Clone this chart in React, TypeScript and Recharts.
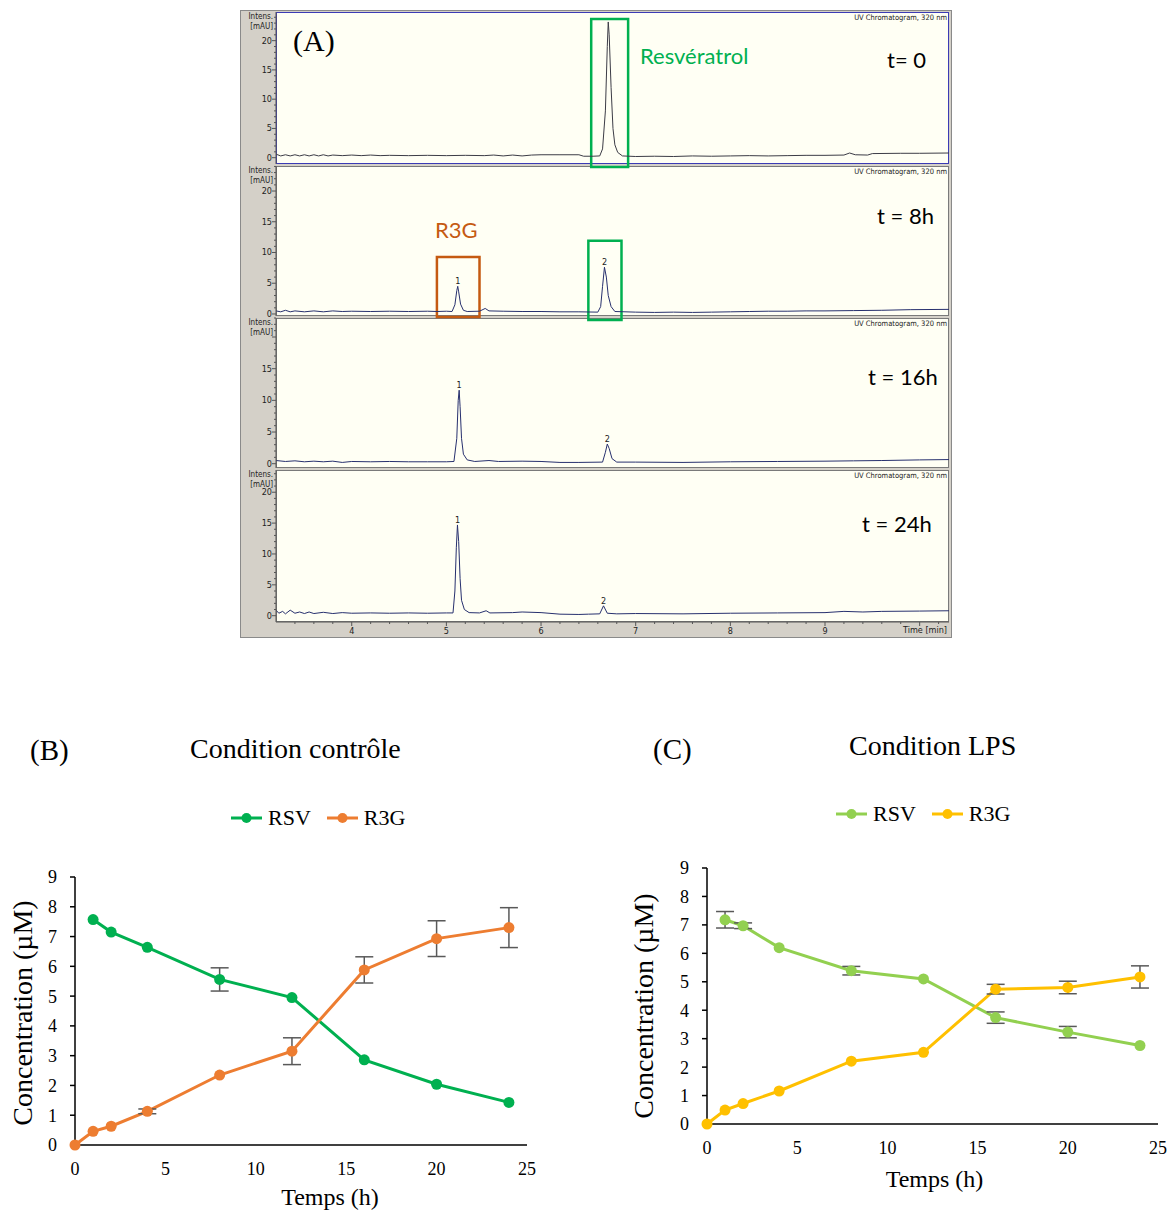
import React from 'react'
import {
  LineChart, Line, XAxis, YAxis, ErrorBar, Legend, ReferenceArea, ReferenceDot,
} from 'recharts'

// (A) chromatogrammes UV 320 nm : [temps (min), intensité (mAU)]
const chromT0 = [
  [3.2, 0.6], [3.25, 0.3], [3.3, 0.5], [3.35, 0.3], [3.4, 0.5], [3.45, 0.3], [3.5, 0.5], [3.55, 0.3],
  [3.6, 0.5], [3.65, 0.3], [3.7, 0.5], [3.75, 0.3], [3.8, 0.45], [3.9, 0.35], [4.0, 0.45], [4.1, 0.35],
  [4.2, 0.45], [4.3, 0.35], [4.4, 0.4], [4.6, 0.35], [4.8, 0.4], [5.0, 0.35], [5.2, 0.4], [5.4, 0.35],
  [5.5, 0.45], [5.6, 0.3], [5.7, 0.45], [5.8, 0.3], [5.9, 0.45], [6.0, 0.5], [6.2, 0.5], [6.4, 0.5],
  [6.45, 0.25], [6.55, 0.25], [6.62, 0.3], [6.65, 1.5], [6.68, 8], [6.7, 19], [6.71, 23.2], [6.72, 21],
  [6.74, 12], [6.76, 5], [6.78, 2.2], [6.81, 0.9], [6.86, 0.3], [7.0, 0.2], [7.2, 0.25], [7.4, 0.2],
  [7.6, 0.3], [7.8, 0.25], [8.0, 0.3], [8.2, 0.35], [8.4, 0.3], [8.6, 0.35], [8.8, 0.4], [9.0, 0.4],
  [9.2, 0.45], [9.26, 0.8], [9.32, 0.5], [9.45, 0.45], [9.5, 0.7], [9.8, 0.75], [10.0, 0.75], [10.31, 0.8],
]
const chromT8 = [
  [3.2, 0.5], [3.25, 0.35], [3.3, 0.6], [3.35, 0.35], [3.4, 0.5], [3.5, 0.35], [3.6, 0.5], [3.7, 0.35],
  [3.8, 0.5], [3.9, 0.4], [4.0, 0.45], [4.2, 0.4], [4.4, 0.45], [4.6, 0.4], [4.8, 0.45], [4.9, 0.4],
  [5.0, 0.45], [5.06, 0.4], [5.09, 1.5], [5.11, 3.8], [5.12, 4.5], [5.13, 3.6], [5.15, 1.6], [5.18, 0.6],
  [5.22, 0.4], [5.35, 0.45], [5.41, 0.9], [5.45, 0.5], [5.6, 0.45], [5.8, 0.4], [6.0, 0.4], [6.2, 0.35],
  [6.4, 0.35], [6.6, 0.3], [6.63, 1.2], [6.65, 4.5], [6.67, 7.6], [6.69, 6], [6.71, 3], [6.74, 1.2],
  [6.78, 0.4], [7.0, 0.3], [7.2, 0.25], [7.4, 0.3], [7.6, 0.25], [7.8, 0.3], [8.0, 0.35], [8.2, 0.4],
  [8.4, 0.45], [8.6, 0.45], [8.8, 0.5], [9.0, 0.5], [9.3, 0.55], [9.6, 0.6], [9.9, 0.7], [10.31, 0.75],
]
const chromT16 = [
  [3.2, 0.5], [3.3, 0.35], [3.4, 0.45], [3.5, 0.3], [3.6, 0.4], [3.7, 0.3], [3.8, 0.4], [3.9, 0.2],
  [4.0, 0.35], [4.2, 0.3], [4.4, 0.35], [4.6, 0.3], [4.8, 0.3], [5.0, 0.3], [5.08, 0.35], [5.11, 4],
  [5.125, 10], [5.135, 11.6], [5.145, 9], [5.16, 4], [5.18, 1.5], [5.22, 0.6], [5.3, 0.35], [5.45, 0.5],
  [5.55, 0.35], [5.8, 0.4], [6.0, 0.35], [6.2, 0.2], [6.4, 0.2], [6.65, 0.25], [6.68, 1.8], [6.7, 3.1],
  [6.72, 2.4], [6.75, 0.8], [6.8, 0.25], [7.0, 0.25], [7.5, 0.2], [8.0, 0.3], [8.5, 0.35], [9.0, 0.4],
  [9.3, 0.45], [9.6, 0.5], [10.0, 0.6], [10.31, 0.65],
]
const chromT24 = [
  [3.2, 0.9], [3.23, 0.4], [3.27, 0.7], [3.3, 0.3], [3.35, 0.9], [3.4, 0.4], [3.45, 0.6], [3.5, 0.35],
  [3.55, 0.6], [3.6, 0.35], [3.7, 0.55], [3.8, 0.35], [3.9, 0.5], [4.0, 0.4], [4.2, 0.45], [4.4, 0.4],
  [4.6, 0.45], [4.8, 0.4], [5.0, 0.45], [5.07, 0.45], [5.09, 4], [5.105, 11], [5.117, 14.7], [5.13, 12],
  [5.145, 6], [5.16, 2.5], [5.19, 1], [5.24, 0.5], [5.35, 0.45], [5.42, 0.8], [5.46, 0.45], [5.7, 0.5],
  [5.8, 0.6], [6.0, 0.5], [6.2, 0.25], [6.4, 0.2], [6.5, 0.25], [6.62, 0.3], [6.66, 1.6], [6.7, 0.4],
  [6.8, 0.3], [7.0, 0.35], [7.5, 0.3], [8.0, 0.4], [8.5, 0.45], [9.0, 0.5], [9.2, 0.7], [9.4, 0.6],
  [9.6, 0.7], [10.0, 0.75], [10.31, 0.8],
]
const chromTraces = [chromT0, chromT8, chromT16, chromT24]
const chromTimeLabels = ['t= 0', 't = 8h', 't = 16h', 't = 24h']
const chromXTicks = [
  3.4, 3.6, 3.8, 4, 4.2, 4.4, 4.6, 4.8, 5, 5.2, 5.4, 5.6, 5.8, 6, 6.2, 6.4, 6.6, 6.8,
  7, 7.2, 7.4, 7.6, 7.8, 8, 8.2, 8.4, 8.6, 8.8, 9, 9.2, 9.4, 9.6, 9.8, 10, 10.2,
]
const chromXLabels = [4, 5, 6, 7, 8, 9]
const chromYTicks = [0, 1, 2, 3, 4, 5, 6, 7, 8, 9, 10, 11, 12, 13, 14, 15, 16, 17, 18, 19, 20, 21, 22, 23, 24]
const chromYDomains = [[-1.08, 24.9], [-0.33, 24.07], [-0.68, 23.0], [-1.02, 23.6]]
const chromXDomain = [3.2, 10.31]
// numéros de pics
const chromPeaks = [
  [],
  [{ t: 5.12, i: 4.5, n: '1' }, { t: 6.67, i: 7.6, n: '2' }],
  [{ t: 5.135, i: 11.6, n: '1' }, { t: 6.7, i: 3.1, n: '2' }],
  [{ t: 5.117, i: 14.7, n: '1' }, { t: 6.66, i: 1.6, n: '2' }],
]
// cadres autour des pics identifiés
const chromBoxes = [
  [{ kind: 'rsv', t1: 6.53, t2: 6.92, i1: -1.6, i2: 23.7 }],
  [{ kind: 'r3g', t1: 4.9, t2: 5.35, i1: -0.49, i2: 9.27 }, { kind: 'rsv', t1: 6.5, t2: 6.85, i1: -0.98, i2: 11.9 }],
  [],
  [],
]

// (B) / (C) cinétiques
const hours = [0, 1, 2, 4, 8, 12, 16, 20, 24]
const ctrlRsv = [null, 7.57, 7.15, 6.64, 5.56, 4.95, 2.86, 2.04, 1.43]
const ctrlRsvErr = [null, null, null, null, 0.39, null, null, null, null]
const ctrlR3g = [0, 0.46, 0.63, 1.13, 2.35, 3.15, 5.88, 6.93, 7.3]
const ctrlR3gErr = [null, null, null, 0.08, null, 0.45, 0.44, 0.6, 0.67]
const lpsRsv = [null, 7.18, 6.97, 6.2, 5.39, 5.1, 3.74, 3.23, 2.76]
const lpsRsvErr = [null, 0.29, 0.1, null, 0.15, null, 0.2, 0.2, null]
const lpsR3g = [0, 0.49, 0.72, 1.16, 2.21, 2.52, 4.74, 4.8, 5.17]
const lpsR3gErr = [null, null, null, null, null, null, 0.17, 0.22, 0.39]
const concTicks = [0, 1, 2, 3, 4, 5, 6, 7, 8, 9]
const hourTicks = [0, 5, 10, 15, 20, 25]
const seriesNames = ['RSV', 'R3G']

const SERIF = "'Liberation Serif', 'Times New Roman', serif"
const SANS = "Lato, 'Liberation Sans', sans-serif"
const NARROW = "'Liberation Sans Narrow', 'DejaVu Sans Condensed', 'Liberation Sans', sans-serif"
const GREEN = '#00b050'
const ORANGE_BOX = '#c55a11'

const chromPanels = [
  { top: 2, height: 152 },
  { top: 156, height: 150 },
  { top: 308, height: 150 },
  { top: 460, height: 152 },
]

function ChromYTick(props: any) {
  const { x, y, payload, skip } = props
  const v = payload.value
  const major = v % 5 === 0
  return (
    <g>
      <line x1={x - (major ? 4 : 2)} x2={x} y1={y} y2={y} stroke="#555" />
      {major && !skip.includes(v) && (
        <text x={x - 4} y={y + 3} textAnchor="end" fontSize={9} fill="#222" fontFamily={NARROW}>{v}</text>
      )}
    </g>
  )
}

function ChromXTick(props: any) {
  const { x, y, payload } = props
  const v = payload.value
  const major = Math.abs(v - Math.round(v)) < 1e-6
  const labelled = major && chromXLabels.includes(Math.round(v))
  return (
    <g>
      <line x1={x} x2={x} y1={y} y2={y + (major ? 4 : 2)} stroke="#555" />
      {labelled && (
        <text x={x} y={y + 12} textAnchor="middle" fontSize={9} fill="#222" fontFamily={NARROW}>{Math.round(v)}</text>
      )}
    </g>
  )
}

function ChromPanel({ k }: { k: number }) {
  const p = chromPanels[k]
  const [lo, hi] = chromYDomains[k]
  const last = k === chromTraces.length - 1
  const data = chromTraces[k].map(([t, i]) => ({ t, i }))
  return (
    <div style={{ position: 'absolute', left: 0, top: p.top }}>
      <LineChart width={709} height={p.height + (last ? 16 : 0)} data={data} margin={{ top: 0, right: 0, bottom: 0, left: 0 }}>
        <XAxis
          dataKey="t" type="number" domain={chromXDomain} allowDataOverflow hide={!last}
          ticks={chromXTicks} interval={0} height={16} tickSize={0} tickMargin={0}
          axisLine={{ stroke: '#555' }} tick={(t: any) => <ChromXTick {...t} />}
        />
        <YAxis
          type="number" domain={[lo, hi]} allowDataOverflow width={36}
          ticks={chromYTicks.filter((v) => v <= hi)} interval={0} tickSize={0} tickMargin={0}
          axisLine={{ stroke: '#555' }} tick={(t: any) => <ChromYTick {...t} skip={k === 2 ? [20] : []} />}
        />
        {chromBoxes[k].map((b, j) => (
          <ReferenceArea
            key={j} x1={b.t1} x2={b.t2} y1={b.i1} y2={b.i2} ifOverflow="visible"
            fill="none" stroke={b.kind === 'rsv' ? GREEN : ORANGE_BOX} strokeWidth={2.5}
          />
        ))}
        <Line
          dataKey="i" type="linear" stroke={k === 0 ? '#3c3c46' : '#27306e'} strokeWidth={1}
          dot={false} isAnimationActive={false}
        />
        {chromPeaks[k].map((pk, j) => (
          <ReferenceDot
            key={j} x={pk.t} y={pk.i} r={0} ifOverflow="visible"
            label={{ value: pk.n, position: 'top', offset: 2, fontSize: 9, fill: '#222', fontFamily: NARROW }}
          />
        ))}
      </LineChart>
    </div>
  )
}

function Txt({ x, y, size, color = '#000', font = SANS, children }: any) {
  return (
    <div style={{
      position: 'absolute', left: x, top: y - size / 2, fontSize: size, lineHeight: 1,
      color, fontFamily: font, whiteSpace: 'nowrap',
    }}>{children}</div>
  )
}

const renderLegend = ({ payload }: any) => {
  const items = seriesNames
    .map((n) => (payload || []).find((e: any) => e.value === n))
    .filter(Boolean)
  return (
    <div style={{ display: 'flex', alignItems: 'center', fontSize: 22, lineHeight: '22px', color: '#000', fontFamily: SERIF }}>
      {items.map((e: any) => (
        <span key={e.value} style={{ display: 'flex', alignItems: 'center', marginRight: 16 }}>
          <svg width={31} height={12}>
            <line x1={0} x2={31} y1={6} y2={6} stroke={e.color} strokeWidth={3} />
            <circle cx={15.5} cy={6} r={5} fill={e.color} />
          </svg>
          <span style={{ marginLeft: 6 }}>{e.value}</span>
        </span>
      ))}
    </div>
  )
}

function ConcChart({ rows, rsvColor, r3gColor, cfg }: any) {
  const errStyle = { width: 9, stroke: '#595959', strokeWidth: 1.5 }
  return (
    <div style={{ position: 'absolute', left: cfg.left, top: cfg.top, fontFamily: SERIF }}>
      <LineChart width={cfg.width} height={cfg.height} data={rows} margin={cfg.margin}>
        <XAxis
          dataKey="h" type="number" domain={[0, 25]} ticks={hourTicks} interval={0}
          tickLine={false} tickSize={0} tickMargin={17} height={cfg.xAxisHeight}
          axisLine={{ stroke: '#000', strokeWidth: 1.5 }} tick={{ fontSize: 18, fill: '#000' }}
          label={{ value: 'Temps (h)', position: 'insideBottom', offset: cfg.xLabelOffset, dx: cfg.xLabelDx, fontSize: 24, fill: '#000' }}
        />
        <YAxis
          type="number" domain={[0, 9]} ticks={concTicks} interval={0} tickSize={5} tickMargin={13}
          width={cfg.yAxisWidth} axisLine={{ stroke: '#000', strokeWidth: 1.5 }}
          tickLine={{ stroke: '#000', strokeWidth: 1.5 }} tick={{ fontSize: 18, fill: '#000' }}
          label={{
            value: 'Concentration (µM)', angle: -90, position: 'insideLeft', offset: cfg.yLabelOffset,
            dy: cfg.yLabelDy, fontSize: 28, fill: '#000', style: { textAnchor: 'middle' },
          }}
        />
        <Legend
          layout="horizontal" verticalAlign="middle" align="center" content={renderLegend}
          wrapperStyle={{ top: cfg.legendTop, left: cfg.legendLeft, width: 220 }}
        />
        <Line dataKey="rsv" name="RSV" type="linear" stroke={rsvColor} strokeWidth={3}
          dot={{ r: 5.5, fill: rsvColor, stroke: rsvColor, strokeWidth: 0 }} isAnimationActive={false} />
        <Line dataKey="r3g" name="R3G" type="linear" stroke={r3gColor} strokeWidth={3}
          dot={{ r: 5.5, fill: r3gColor, stroke: r3gColor, strokeWidth: 0 }} isAnimationActive={false} />
        {/* barres d'erreur dessinées par-dessus les points */}
        <Line dataKey="rsv" name="rsv-err" stroke="none" dot={false} legendType="none" isAnimationActive={false}>
          <ErrorBar dataKey="rsvErr" {...errStyle} />
        </Line>
        <Line dataKey="r3g" name="r3g-err" stroke="none" dot={false} legendType="none" isAnimationActive={false}>
          <ErrorBar dataKey="r3gErr" {...errStyle} />
        </Line>
      </LineChart>
    </div>
  )
}

const ctrlRows = hours.map((h, k) => ({ h, rsv: ctrlRsv[k], rsvErr: ctrlRsvErr[k], r3g: ctrlR3g[k], r3gErr: ctrlR3gErr[k] }))
const lpsRows = hours.map((h, k) => ({ h, rsv: lpsRsv[k], rsvErr: lpsRsvErr[k], r3g: lpsR3g[k], r3gErr: lpsR3gErr[k] }))

const cfgB = {
  left: 0, top: 780, width: 560, height: 430,
  margin: { top: 97, right: 33, bottom: 0, left: 0 },
  yAxisWidth: 75, xAxisHeight: 65, xLabelOffset: 5, xLabelDx: 29, yLabelOffset: 22, yLabelDy: 2,
  legendTop: 27, legendLeft: 231,
}
const cfgC = {
  left: 620, top: 780, width: 553, height: 420,
  margin: { top: 88, right: 15, bottom: 0, left: 0 },
  yAxisWidth: 87, xAxisHeight: 76, xLabelOffset: 13, xLabelDx: 2, yLabelOffset: 23, yLabelDy: 10,
  legendTop: 23, legendLeft: 216,
}

const chromTextY = [60, 216, 377, 524]
const chromTextX = [887, 877, 868, 862]

export default function App() {
  return (
    <div style={{ position: 'absolute', left: 0, top: 0, width: 1173, height: 1213, overflow: 'hidden', background: '#fff' }}>
      <style>{'.recharts-surface{overflow:visible}'}</style>

      <div style={{ position: 'absolute', left: 240, top: 10, width: 712, height: 628, background: '#d4d0c8', boxShadow: 'inset 0 0 0 1px #8a8a8a' }}>
        {chromPanels.map((p, k) => (
          <div key={'bg' + k} style={{
            position: 'absolute', left: 36, top: p.top, width: 673, height: p.height, background: '#fffff4',
            boxSizing: 'border-box', border: k === 0 ? '1px solid #3b3bb5' : '1px solid #7a7a7a',
          }} />
        ))}
        {chromPanels.map((p, k) => <ChromPanel key={k} k={k} />)}
        {chromPanels.map((p, k) => (
          <div key={'lab' + k} style={{ position: 'absolute', left: 0, top: p.top, width: 33, textAlign: 'right', fontFamily: NARROW, fontSize: 8, lineHeight: '10px', color: '#222' }}>
            Intens.<br />[mAU]
          </div>
        ))}
        {chromPanels.map((p, k) => (
          <div key={'uv' + k} style={{ position: 'absolute', left: 560, top: p.top + 1, width: 147, textAlign: 'right', fontFamily: NARROW, fontSize: 7.5, lineHeight: '9px', color: '#222' }}>
            UV Chromatogram, 320 nm
          </div>
        ))}
        <div style={{ position: 'absolute', left: 610, top: 615, width: 97, textAlign: 'right', fontFamily: NARROW, fontSize: 9, lineHeight: '10px', color: '#222' }}>
          Time [min]
        </div>
      </div>

      <Txt x={293} y={41} size={30} font={SERIF}>(A)</Txt>
      <Txt x={640} y={56} size={22} color={GREEN}>Resvératrol</Txt>
      <Txt x={435} y={230} size={22} color={ORANGE_BOX}>R3G</Txt>
      {chromTimeLabels.map((s, k) => (
        <Txt key={s} x={chromTextX[k]} y={chromTextY[k]} size={22}>{s}</Txt>
      ))}

      <Txt x={30} y={750} size={29} font={SERIF}>(B)</Txt>
      <Txt x={190} y={749} size={28} font={SERIF}>Condition contrôle</Txt>
      <Txt x={653} y={749} size={29} font={SERIF}>(C)</Txt>
      <Txt x={849} y={746} size={28} font={SERIF}>Condition LPS</Txt>

      <ConcChart rows={ctrlRows} rsvColor="#00b050" r3gColor="#ed7d31" cfg={cfgB} />
      <ConcChart rows={lpsRows} rsvColor="#92d050" r3gColor="#ffc000" cfg={cfgC} />
    </div>
  )
}
